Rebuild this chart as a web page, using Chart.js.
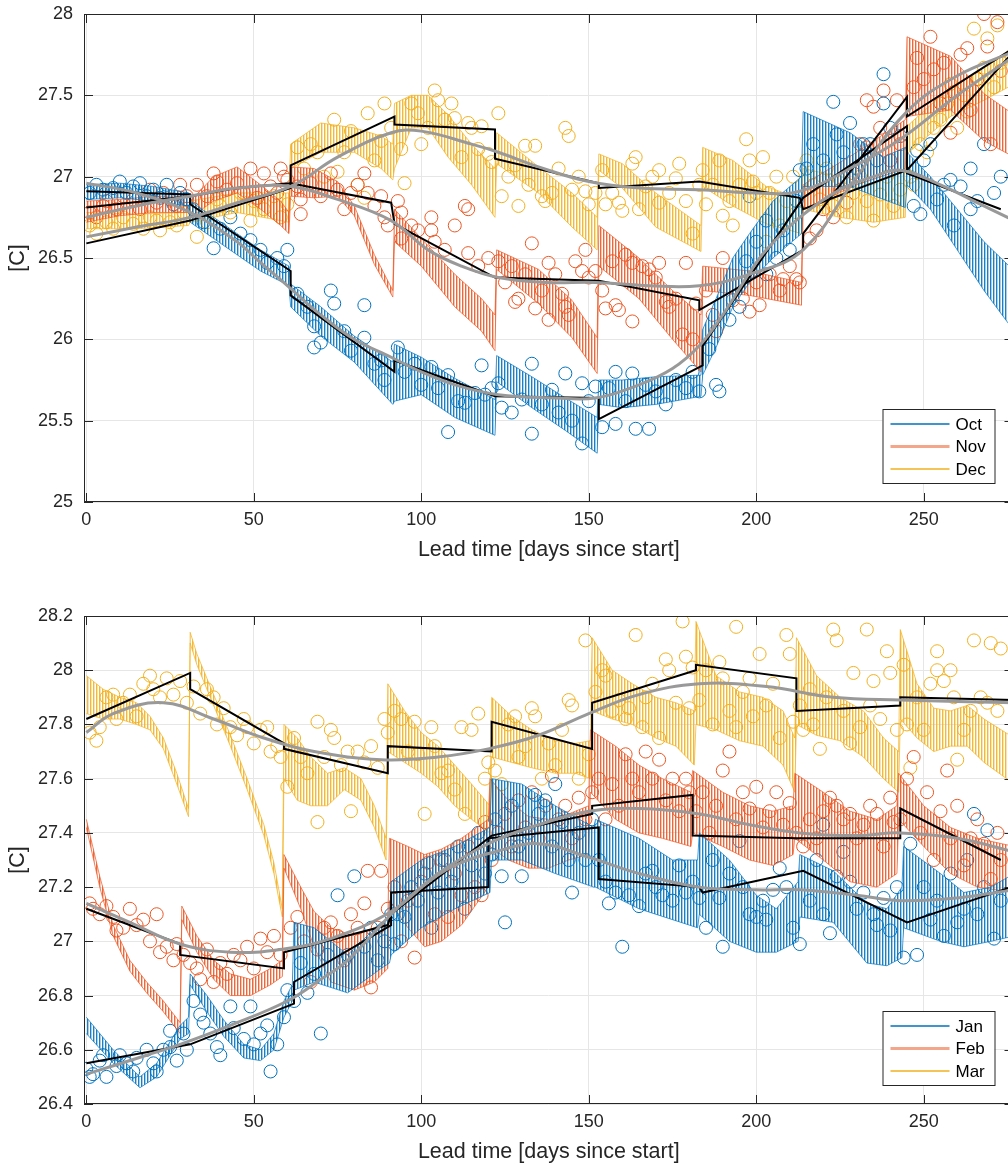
<!DOCTYPE html>
<html lang="en">
<head>
<meta charset="UTF-8">
<title>Lead time forecasts</title>
<style>
  html, body { margin: 0; padding: 0; background: #fff; overflow: hidden; }
  .panel { position: absolute; left: 0; }
  #wrapTop { top: 0; }
  #wrapBot { top: 602px; }
</style>
</head>
<body>
<div class="panel" id="wrapTop"><canvas id="chartTop" width="1021" height="567"></canvas></div>
<div class="panel" id="wrapBot"><canvas id="chartBot" width="1021" height="567"></canvas></div>
<script src="https://cdn.jsdelivr.net/npm/chart.js@4/dist/chart.umd.min.js"></script>
<script>
// ---- axes ----
const xTicks = [0, 50, 100, 150, 200, 250];
const yTicksTop = [25, 25.5, 26, 26.5, 27, 27.5, 28];
const yTicksBot = [26.4, 26.6, 26.8, 27, 27.2, 27.4, 27.6, 27.8, 28, 28.2];
const topMonths = ['Oct', 'Nov', 'Dec'];
const botMonths = ['Jan', 'Feb', 'Mar'];

// ---- top panel: observations [day, temp] ----
const octObs = [[1,26.9],[3,26.95],[5,26.92],[8,26.93],[10,26.97],[12,26.9],[14,26.94],[16,26.96],[18,26.88],[20,26.92],[22,26.87],[24,26.95],[26,26.83],[28,26.9],[30,26.86],
  [32,26.8],[35,26.72],[38,26.56],[40,26.68],[43,26.75],[46,26.65],[49,26.61],[52,26.55],[54,26.47],[57,26.5],[59,26.45],[60,26.55],
  [63,26.28],[66,26.2],[68,26.08],[68,25.95],[70,25.98],[73,26.3],[74,26.22],[77,26.05],[79,25.93],[83,26.21],[83,26.01],[86,25.85],[88,25.87],[89,25.75],
  [93,25.95],[95,25.8],[98,25.85],[100,25.72],[103,25.83],[105,25.7],[108,25.78],[108,25.43],[111,25.62],[113,25.61],[116,25.67],[118,25.84],[119,25.66],[121,25.7],
  [123,25.73],[124,25.58],[127,25.55],[130,25.63],[133,25.85],[133,25.42],[136,25.6],[139,25.69],[141,25.55],[143,25.79],[145,25.5],[148,25.73],[148,25.36],[150,25.62],[152,25.71],
  [154,25.46],[156,25.7],[158,25.8],[158,25.48],[161,25.62],[163,25.79],[164,25.45],[167,25.72],[168,25.45],[170,25.68],[173,25.6],[176,25.75],[179,25.7],[181,25.8],[183,25.68],
  [186,25.94],[188,25.72],[189,25.68],[192,26.12],[195,26.2],[197,26.48],[198,26.88],[200,26.6],[203,26.4],[203,26.73],[206,26.5],[208,26.67],[210,26.55],[212,26.85],[213,27.04],
  [215,27.05],[217,27.2],[220,27.1],[223,27.46],[224,27.26],[226,27.15],[228,27.33],[230,27.05],[232,27.2],[234,27.2],[236,27.1],[238,27.63],[238,27.45],[240,27.3],[243,27.25],
  [247,26.82],[248,27.16],[249,26.77],[250,27.1],[252,27.2],[254,26.86],[256,26.95],[258,26.98],[259,26.7],[261,26.94],[264,27.05],[264,26.8],[266,26.85],[268,27.2],[271,26.9],[273,27.0]];
const novObs = [[1,26.78],[3,26.75],[5,26.82],[6,26.85],[9,26.8],[11,26.88],[14,26.86],[16,26.8],[19,26.92],[21,26.84],[23,26.9],[25,26.86],[27,26.82],[28,26.95],[30,26.88],
  [33,26.95],[36,26.88],[38,27.02],[39,26.97],[42,26.92],[45,26.96],[47,26.9],[49,27.05],[51,26.87],[53,27.02],[55,26.94],[57,26.9],[58,27.05],[59,27.0],[60,26.98],
  [63,26.94],[64,26.86],[64,26.77],[67,26.96],[70,26.88],[73,27.02],[75,26.92],[77,26.8],[79,26.9],[81,26.95],[83,27.02],[84,26.9],[86,26.82],[88,26.88],[89,26.75],[90,26.7],
  [93,26.85],[94,26.78],[94,26.62],[97,26.7],[99,26.67],[103,26.75],[103,26.67],[104,26.6],[107,26.55],[110,26.7],[113,26.82],[114,26.8],[114,26.53],[117,26.45],[120,26.5],
  [123,26.48],[125,26.35],[127,26.45],[128,26.23],[129,26.25],[131,26.4],[133,26.59],[134,26.19],[136,26.3],[138,26.47],[138,26.12],[140,26.4],[142,26.28],[143,26.2],[144,26.15],[146,26.48],[148,26.42],[149,26.55],[150,26.38],[152,26.42],
  [154,26.3],[155,26.19],[157,26.48],[158,26.21],[159,26.18],[161,26.52],[163,26.11],[163,26.47],[166,26.45],[168,26.43],[170,26.38],[171,26.47],[173,26.23],[174,26.2],[176,26.25],[178,26.03],[179,26.47],[181,26.0],[182,26.22],
  [185,26.3],[187,26.15],[188,26.05],[190,26.5],[193,26.24],[196,26.25],[198,26.17],[200,26.35],[201,26.21],[204,26.4],[207,26.3],[208,26.37],[210,26.45],[212,26.37],[213,26.35],
  [216,26.62],[218,26.67],[220,26.8],[223,26.75],[225,26.92],[227,26.84],[229,27.02],[231,27.2],[233,27.47],[233,27.18],[235,27.43],[237,27.3],[238,27.53],[240,27.1],[242,27.47],[243,27.2],
  [247,27.55],[248,27.73],[250,27.6],[252,27.86],[253,27.66],[255,27.45],[256,27.7],[258,27.27],[259,27.52],[261,27.75],[263,27.79],[264,27.41],[266,27.6],[268,28.0],[269,27.8],[270,27.2],[272,27.95],[273,27.65]];
const decObs = [[1,26.7],[3,26.65],[6,26.72],[8,26.68],[11,26.75],[14,26.71],[17,26.68],[19,26.75],[21,26.73],[22,26.67],[25,26.72],[27,26.7],[29,26.78],
  [33,26.63],[36,26.72],[39,26.86],[40,26.82],[43,26.78],[46,26.9],[49,26.73],[50,26.85],[53,26.8],[56,26.88],[58,26.75],[60,26.83],
  [63,27.18],[65,27.05],[67,27.2],[69,27.15],[71,27.0],[74,27.35],[75,27.03],[77,27.15],[79,27.28],[81,26.95],[83,26.87],[84,27.39],[86,27.1],[88,27.22],[89,27.45],[91,27.3],
  [94,27.17],[95,26.96],[97,27.45],[99,27.39],[100,27.2],[102,27.3],[104,27.53],[105,27.47],[107,27.35],[109,27.45],[110,27.36],[112,27.12],[114,27.33],[115,27.3],[117,27.17],[118,27.31],[120,27.14],[121,27.09],
  [123,27.39],[124,26.88],[126,27.0],[128,27.07],[129,26.82],[131,27.19],[132,26.95],[134,27.19],[136,26.88],[137,26.85],[139,26.9],[141,27.05],[143,27.3],[144,27.25],[145,26.92],[147,27.0],[149,26.91],[150,26.83],[152,26.9],
  [154,27.04],[155,26.83],[157,26.9],[159,26.84],[160,26.79],[163,27.08],[164,27.12],[165,26.8],[167,26.94],[169,27.0],[171,27.04],[171,26.84],[174,26.9],[176,26.99],[177,27.08],[179,26.85],[181,26.65],[183,26.95],
  [184,27.04],[185,26.83],[187,26.95],[189,27.1],[190,26.76],[192,26.85],[193,26.7],[195,26.95],[197,27.23],[198,27.1],[199,26.97],[200,26.9],[202,27.12],[203,26.6],[204,26.9],[206,27.0],[207,26.7],[209,26.85],[211,27.0],[212,26.78],
  [215,27.1],[217,26.95],[219,26.86],[221,27.05],[223,26.82],[225,26.98],[227,26.75],[229,26.9],[231,27.0],[233,26.85],[235,26.73],[237,26.89],[239,27.0],[241,26.82],[243,26.92],
  [246,27.0],[247,26.95],[249,27.2],[251,27.15],[253,27.3],[255,27.35],[257,27.45],[258,27.57],[260,27.3],[262,27.5],[263,27.4],[265,27.91],[266,27.6],[268,27.67],[269,27.85],[271,27.55],[272,27.93],[273,27.7]];

// ---- top panel: forecast spread [day, high, low] ----
const octBand = [[0,26.95,26.86],[10,26.96,26.87],[20,26.94,26.85],[30.5,26.9,26.82],
  [31,26.85,26.72],[38,26.75,26.62],[45,26.65,26.52],[52,26.55,26.42],[60.5,26.45,26.33],
  [61,26.34,26.2],[70,26.2,26.02],[80,26.02,25.86],[91.5,25.86,25.6],
  [92,25.97,25.62],[100,25.89,25.66],[110,25.76,25.52],[122,25.63,25.41],
  [122.5,25.9,25.74],[133,25.77,25.58],[143,25.64,25.44],[152.5,25.52,25.3],
  [153,25.75,25.6],[160,25.75,25.58],[170,25.77,25.6],[183.5,25.78,25.65],
  [184,26.06,25.78],[188,26.25,25.95],[193,26.5,26.2],[198,26.65,26.35],[205,26.85,26.5],[213.5,27.0,26.65],
  [214,27.4,26.94],[228,27.27,26.94],[238,27.12,26.86],[244.5,27.18,26.81],
  [245,27.15,26.95],[252,27.0,26.8],[260,26.8,26.55],[268,26.6,26.3],[277,26.42,26.05]];
const novBand = [[0,26.85,26.72],[10,26.86,26.76],[20,26.88,26.78],[30.5,26.88,26.78],
  [31,26.85,26.75],[38,27.0,26.85],[45,27.06,26.9],[52,26.95,26.8],[58,26.85,26.7],[60.5,26.78,26.65],
  [61,27.06,26.88],[68,27.05,26.87],[75,26.97,26.88],[80,26.82,26.76],[86,26.52,26.46],[91.5,26.3,26.26],
  [92,26.8,26.6],[100,26.62,26.45],[110,26.4,26.2],[118,26.25,26.05],[122,26.15,25.93],
  [122.5,26.55,26.43],[135,26.43,26.22],[145,26.24,26.01],[152.5,26.01,25.79],
  [153,26.7,26.45],[165,26.5,26.25],[175,26.3,26.0],[183.5,26.15,25.8],
  [184,26.45,26.3],[198,26.42,26.27],[213.5,26.35,26.21],
  [214,26.95,26.8],[230,27.15,26.95],[244.5,27.35,27.05],
  [245,27.86,27.37],[258,27.74,27.41],[268,27.51,27.22],[277,27.38,27.12]];
const decBand = [[0,26.78,26.68],[15,26.77,26.68],[30.5,26.78,26.7],
  [31,26.85,26.72],[45,26.9,26.78],[60.5,26.9,26.72],
  [61,27.2,27.05],[70,27.33,27.15],[80,27.3,27.15],[88,27.25,27.05],[91.5,27.2,26.98],
  [92,27.45,27.05],[97,27.5,27.3],[102,27.5,27.3],[108,27.38,27.12],[115,27.2,26.95],[122,27.05,26.75],
  [122.5,27.27,27.08],[135,27.06,26.9],[145,26.9,26.69],[152.5,26.75,26.55],
  [153,27.14,27.04],[160,27.08,26.93],[170,26.9,26.69],[183.5,26.7,26.54],
  [184,27.18,26.94],[193,27.1,26.82],[203,26.94,26.71],[213.5,26.86,26.65],
  [214,27.05,26.8],[225,27.0,26.75],[235,26.95,26.72],[244.5,27.05,26.75],
  [245,27.31,27.14],[258,27.55,27.37],[268,27.67,27.47],[277,27.8,27.57]];

// ---- top panel: monthly means (black) and smooth fit (gray) ----
const octMean = [[0,26.91],[31,26.89],[31,26.83],[61,26.42],[61,26.27],[92,25.8],[92,25.87],[122,25.65],[153,25.64],[153,25.51],[184,25.84],[184,25.96],[214,26.87],[245,27.31],[245,27.02],[273,26.8]];
const novMean = [[0,26.81],[31,26.88],[45,26.93],[61,26.96],[91,26.84],[92,26.71],[122,26.38],[153,26.36],[183,26.24],[183,26.18],[214,26.55],[214,26.65],[245,27.49],[245,27.37],[276,27.78]];
const decMean = [[0,26.59],[31,26.73],[61,26.93],[61,27.07],[91,27.36],[92,27.37],[92,27.32],[122,27.29],[122,27.11],[153,26.96],[153,26.93],[183,26.97],[213,26.87],[214,26.8],[245,27.04],[276,27.75]];
const octFit = [[0,26.96],[15,26.9],[31,26.78],[45,26.6],[51,26.49],[60,26.33],[70,26.15],[80,26.0],[91,25.89],[100,25.8],[110,25.72],[123,25.66],[140,25.64],[152,25.64],[165,25.72],[175,25.82],[183,25.96],[190,26.15],[198,26.41],[203,26.55],[213,26.75],[225,26.92],[235,27.0],[243,27.04],[255,26.95],[265,26.85],[277,26.73]];
const novFit = [[0,26.75],[15,26.82],[31,26.88],[45,26.93],[61,26.94],[75,26.86],[91,26.73],[102,26.55],[112,26.45],[123,26.38],[137,26.35],[152,26.35],[168,26.33],[183,26.33],[198,26.4],[214,26.55],[230,27.0],[245,27.4],[260,27.62],[277,27.77]];
const decFit = [[0,26.63],[15,26.69],[31,26.75],[45,26.84],[61,26.94],[75,27.12],[91,27.27],[100,27.28],[115,27.2],[123,27.15],[135,27.06],[150,26.97],[165,26.93],[183,26.92],[200,26.9],[213,26.91],[228,27.05],[243,27.23],[260,27.5],[277,27.74]];

// ---- bottom panel: observations ----
const janObs = [[0,26.53],[1,26.5],[2,26.51],[4,26.56],[5,26.58],[6,26.5],[9,26.54],[10,26.58],[12,26.55],[14,26.52],[15,26.57],[18,26.6],[20,26.55],[21,26.52],[23,26.6],[25,26.61],[25,26.67],[27,26.56],[29,26.66],[30,26.6],
  [32,26.78],[34,26.73],[35,26.7],[37,26.66],[39,26.61],[40,26.58],[43,26.76],[44,26.68],[47,26.64],[49,26.76],[50,26.62],[52,26.66],[54,26.69],[55,26.52],[57,26.62],[59,26.72],[60,26.82],
  [62,26.78],[64,26.92],[66,26.81],[68,26.88],[70,26.66],[72,26.95],[75,27.17],[78,26.95],[80,27.24],[83,26.98],[85,27.05],[87,26.93],[89,27.0],[91,27.1],
  [92,26.99],[93,27.1],[95,27.09],[97,27.2],[99,27.15],[101,27.25],[103,27.05],[105,27.18],[107,27.3],[109,27.22],[111,27.35],[113,27.12],[115,27.28],[117,27.4],[119,27.25],[121,27.32],
  [122,27.45],[124,27.24],[125,27.07],[127,27.5],[129,27.35],[130,27.24],[132,27.4],[134,27.54],[135,27.47],[137,27.52],[139,27.35],[140,27.58],[142,27.44],[144,27.3],[145,27.18],[147,27.4],[149,27.3],[151,27.45],
  [153,27.3],[155,27.22],[156,27.14],[158,27.18],[160,26.98],[162,27.17],[165,27.13],[167,27.25],[169,27.26],[170,27.2],[172,27.17],[175,27.15],[177,27.28],[179,27.18],[181,27.22],[183,27.16],
  [185,27.05],[187,27.3],[189,27.16],[190,26.98],[192,27.25],[195,27.37],[196,27.2],[198,27.1],[200,27.09],[202,27.15],[203,27.08],[205,27.19],[207,27.27],[209,27.2],[211,27.05],[213,26.99],
  [216,27.15],[218,27.3],[220,27.43],[220,27.1],[222,27.03],[224,27.24],[226,27.33],[228,27.22],[230,27.12],[232,27.18],[235,27.1],[236,27.06],[238,27.16],[240,27.04],[242,27.2],[244,26.94],
  [246,27.36],[248,26.95],[250,27.2],[252,27.08],[254,27.15],[256,27.02],[258,27.25],[260,27.07],[262,27.12],[263,27.3],[265,27.47],[266,27.1],[268,27.2],[269,27.41],[271,27.01],[273,27.15]];
const febObs = [[1,27.14],[2,27.12],[4,27.1],[6,27.13],[8,27.09],[9,27.04],[11,27.05],[13,27.12],[15,27.06],[17,27.08],[19,27.0],[21,27.1],[22,26.96],[24,26.98],[26,26.93],[27,26.99],
  [29,26.95],[31,26.92],[33,26.9],[34,26.86],[36,26.97],[38,26.85],[40,26.92],[42,26.88],[44,26.95],[46,26.93],[48,26.98],[50,26.9],[52,27.01],[54,26.96],[56,27.02],[58,26.95],
  [61,27.05],[63,27.09],[65,27.0],[67,26.85],[69,26.97],[71,27.05],[73,27.07],[75,27.02],[77,26.93],[79,27.1],[81,27.05],[83,27.14],[84,27.26],[85,26.83],[87,27.05],[88,27.26],[90,27.12],
  [92,27.2],[94,27.0],[96,27.15],[98,26.94],[100,27.22],[102,27.29],[104,27.1],[106,27.3],[108,27.09],[110,27.25],[112,27.17],[114,27.35],[116,27.2],[118,27.17],[119,27.44],
  [121,27.3],[123,27.4],[125,27.47],[127,27.35],[129,27.52],[131,27.42],[133,27.55],[135,27.38],[137,27.5],[139,27.61],[141,27.45],[143,27.5],[145,27.38],[147,27.53],[149,27.45],
  [151,27.55],[153,27.6],[155,27.45],[157,27.58],[159,27.5],[161,27.69],[163,27.6],[165,27.55],[167,27.7],[169,27.6],[171,27.67],[173,27.52],[175,27.6],[177,27.48],[179,27.6],[180,27.55],
  [182,27.48],[184,27.55],[186,27.4],[188,27.5],[190,27.63],[192,27.7],[194,27.45],[196,27.55],[198,27.49],[200,27.57],[202,27.42],[204,27.48],[206,27.55],[208,27.43],[210,27.51],
  [212,27.4],[214,27.35],[216,27.45],[218,27.38],[220,27.48],[222,27.53],[224,27.5],[226,27.45],[228,27.47],[230,27.38],[232,27.43],[234,27.5],[236,27.47],[238,27.35],[240,27.53],[241,27.44],
  [243,27.45],[245,27.6],[247,27.68],[249,27.4],[251,27.55],[253,27.3],[255,27.48],[257,27.63],[258,27.38],[260,27.5],[262,27.28],[264,27.38],[266,27.45],[268,27.36],[270,27.23],[272,27.4],[273,27.3]];
const marObs = [[1,27.77],[3,27.74],[4,27.79],[6,27.9],[8,27.91],[9,27.82],[11,27.88],[13,27.91],[15,27.83],[17,27.95],[19,27.98],[20,27.93],[22,27.9],[24,27.97],[26,27.91],[28,27.96],[30,27.88],
  [32,27.94],[34,27.84],[36,27.93],[38,27.9],[39,27.8],[41,27.86],[43,27.79],[45,27.76],[47,27.82],[48,27.79],[50,27.73],[52,27.78],[54,27.79],[55,27.7],[57,27.72],[58,27.68],
  [60,27.57],[62,27.75],[64,27.68],[66,27.62],[69,27.81],[69,27.44],[71,27.68],[73,27.78],[74,27.75],[76,27.65],[78,27.7],[79,27.48],[81,27.7],[83,27.66],[85,27.72],[87,27.64],[89,27.82],[90,27.77],
  [92,27.85],[94,27.82],[96,27.7],[98,27.81],[99,27.69],[101,27.47],[103,27.79],[104,27.72],[106,27.62],[108,27.63],[110,27.56],[112,27.79],[113,27.47],[115,27.78],[117,27.84],[119,27.6],[120,27.66],
  [122,27.63],[124,27.58],[126,27.8],[128,27.83],[129,27.68],[131,27.72],[133,27.86],[134,27.83],[136,27.6],[138,27.73],[140,27.65],[142,27.78],[144,27.89],[145,27.87],[147,27.6],[149,28.11],[150,27.69],
  [152,27.92],[154,28.0],[155,27.98],[157,27.85],[159,27.89],[161,27.82],[162,27.86],[164,28.13],[166,27.79],[167,27.9],[169,27.95],[171,27.75],[173,28.04],[174,28.0],[176,27.88],[178,28.18],[179,28.05],[180,27.86],[181,28.01],
  [183,27.89],[185,28.0],[187,27.8],[189,28.03],[190,27.97],[192,27.85],[194,28.16],[194,27.79],[196,27.92],[198,27.97],[199,27.83],[201,28.06],[203,27.87],[205,27.95],[207,27.75],[209,28.13],[210,28.06],[211,27.81],
  [213,27.87],[214,27.78],[216,27.93],[217,27.8],[219,27.71],[221,27.9],[223,28.15],[224,28.11],[226,27.85],[228,27.73],[229,27.99],[231,27.79],[233,28.15],[234,27.87],[235,27.96],[237,27.82],[239,28.07],[240,27.99],[242,27.78],
  [244,28.02],[245,27.8],[246,27.64],[248,27.9],[250,27.78],[252,27.95],[254,28.07],[254,28.0],[256,27.96],[258,28.0],[259,27.9],[260,27.67],[262,27.78],[264,27.85],[265,28.11],[267,27.9],[269,27.88],[270,28.1],[272,27.85],[273,28.08]];

// ---- bottom panel: forecast spread [day, high, low] ----
const janBand = [[0,26.72,26.66],[8,26.6,26.55],[16,26.5,26.46],[21,26.55,26.5],[28,26.69,26.64],[30.5,26.72,26.66],
  [31,26.88,26.84],[36,26.8,26.74],[41,26.71,26.65],[47,26.62,26.57],[52,26.6,26.56],[56,26.66,26.6],[59,26.78,26.72],[61.5,26.84,26.78],
  [62,27.07,26.82],[68,27.05,26.85],[78,26.95,26.81],[88,27.07,26.9],[90.5,27.08,26.92],
  [91,27.22,26.95],[100,27.3,27.05],[110,27.35,27.12],[120.5,27.42,27.18],
  [121,27.6,27.3],[130,27.58,27.3],[140,27.5,27.25],[151.5,27.42,27.2],
  [152,27.45,27.2],[165,27.38,27.12],[175,27.3,27.08],[182.5,27.3,27.05],
  [183,27.4,27.1],[192,27.3,27.0],[200,27.17,26.96],[206,27.12,26.96],[212.5,27.22,27.0],
  [213,27.32,27.09],[223,27.26,27.07],[233,27.14,26.92],[239,27.12,26.91],[243.5,27.2,26.94],
  [244,27.35,27.05],[255,27.25,27.0],[262,27.18,26.98],[270,27.2,27.0],[277,27.25,27.02]];
const febBand = [[0,27.45,27.42],[4,27.24,27.2],[8,27.06,27.02],[13,26.93,26.89],[18,26.85,26.81],[23,26.78,26.74],[28,26.7,26.66],
  [28.5,27.13,27.08],[33,27.02,26.96],[38,26.93,26.86],[43,26.88,26.8],[49,26.86,26.8],[55,26.9,26.84],[58.5,26.93,26.87],
  [59,27.32,27.27],[64,27.2,27.12],[68,27.11,26.98],[73,27.05,26.85],[80,27.02,26.82],[86,27.05,26.85],[90,27.08,26.9],
  [90.5,27.38,27.15],[96,27.35,27.05],[101,27.32,26.98],[106,27.34,27.0],[112,27.38,27.06],[120,27.45,27.2],
  [120.5,27.6,27.35],[126,27.52,27.3],[132,27.46,27.27],[138,27.45,27.27],[144,27.47,27.3],[150,27.5,27.32],
  [150.5,27.78,27.55],[158,27.72,27.45],[165,27.65,27.4],[172,27.6,27.38],[180.5,27.55,27.35],
  [181,27.63,27.4],[190,27.55,27.35],[198,27.5,27.3],[205,27.48,27.28],[211,27.5,27.32],
  [211.5,27.62,27.38],[220,27.55,27.3],[228,27.48,27.22],[236,27.45,27.2],[242,27.5,27.25],
  [242.5,27.62,27.45],[250,27.5,27.35],[258,27.42,27.25],[266,27.38,27.2],[277,27.35,27.18]];
const marBand = [[0,27.98,27.84],[5,27.93,27.82],[10,27.9,27.82],[15,27.88,27.8],[19,27.83,27.78],[23,27.75,27.71],[27,27.62,27.58],[30.5,27.49,27.46],
  [31,28.14,28.1],[33,28.06,28.02],[38,27.91,27.87],[43,27.76,27.72],[48,27.6,27.56],[53,27.43,27.39],[56,27.29,27.25],[58.5,27.12,27.09],
  [59,27.8,27.6],[63,27.75,27.52],[67,27.68,27.5],[72,27.62,27.5],[77,27.64,27.56],[82,27.6,27.52],[86,27.5,27.42],[89.5,27.38,27.3],
  [90,27.95,27.7],[95,27.85,27.66],[100,27.77,27.62],[105,27.72,27.57],[110,27.65,27.5],[115,27.58,27.45],[120.5,27.5,27.4],
  [121,27.9,27.68],[127,27.83,27.66],[133,27.78,27.64],[140,27.74,27.62],[146,27.73,27.62],[150.5,27.74,27.6],
  [151,28.12,27.85],[157,28.0,27.82],[163,27.95,27.8],[170,27.9,27.75],[176,27.88,27.72],[181.5,27.85,27.65],
  [182,28.18,27.8],[188,27.98,27.78],[195,27.92,27.74],[202,27.9,27.72],[208,27.85,27.65],[211.5,27.75,27.55],
  [212,28.12,27.8],[218,27.98,27.76],[225,27.9,27.74],[232,27.85,27.68],[238,27.75,27.6],[242.5,27.7,27.55],
  [243,28.15,27.82],[248,27.95,27.75],[253,27.86,27.7],[258,27.85,27.72],[263,27.87,27.72],[268,27.82,27.66],[277,27.75,27.58]];

// ---- bottom panel: monthly means and smooth fit ----
const janMean = [[0,26.55],[31,26.62],[62,26.77],[62,26.85],[91,27.06],[91,27.18],[120,27.2],[120,27.38],[153,27.42],[153,27.23],[183,27.2],[184,27.18],[214,27.26],[245,27.07],[276,27.2]];
const febMean = [[0,27.12],[28,26.99],[28,26.95],[59,26.9],[59,26.96],[90,27.06],[91,27.1],[120,27.38],[121,27.39],[151,27.47],[151,27.5],[181,27.54],[181,27.39],[212,27.38],[243,27.38],[243,27.49],[273,27.3]];
const marMean = [[0,27.82],[31,27.99],[31,27.93],[59,27.73],[59,27.71],[90,27.62],[90,27.72],[121,27.7],[121,27.81],[151,27.71],[151,27.88],[182,28.0],[182,28.02],[212,27.97],[212,27.85],[243,27.87],[243,27.9],[277,27.89]];
const janFit = [[0,26.51],[18,26.58],[28,26.62],[43,26.69],[60,26.78],[70,26.86],[78,26.93],[91,27.1],[100,27.2],[110,27.28],[122,27.33],[135,27.36],[150,27.31],[165,27.25],[183,27.2],[200,27.19],[213,27.19],[230,27.17],[243,27.15],[260,27.16],[277,27.19]];
const febFit = [[0,27.14],[13,27.07],[28,26.99],[43,26.96],[58,26.97],[73,27.01],[91,27.11],[105,27.25],[120,27.36],[135,27.43],[150,27.48],[165,27.49],[183,27.47],[198,27.43],[213,27.4],[230,27.39],[243,27.4],[260,27.38],[277,27.33]];
const marFit = [[0,27.77],[8,27.84],[23,27.88],[38,27.82],[53,27.75],[68,27.7],[88,27.67],[105,27.68],[120,27.71],[135,27.76],[150,27.84],[165,27.91],[183,27.95],[203,27.94],[223,27.9],[243,27.89],[277,27.88]];

// ---- style ----
const COLORS = ['#0072BD', '#EB5724', '#F2B01E'];
const LEGEND_COLORS = ['#0072BD', '#F4A68A', '#F2B01E'];
const LEGEND_WIDTHS = [1.5, 3, 1.5];
const FONT = '"Liberation Sans", Arial, Helvetica, sans-serif';
const AXIS = '#262626';

function pts(a, col) { return a.map(p => ({ x: p[0], y: p[col || 1] })); }

// vertical hatching that stands in for the dense daily zigzag
function hatch(color) {
  const c = document.createElement('canvas');
  c.width = 3; c.height = 4;
  const g = c.getContext('2d');
  g.fillStyle = color;
  g.globalAlpha = 0.9;  g.fillRect(0, 0, 1, 4);
  g.globalAlpha = 0.35; g.fillRect(1, 0, 1, 4);
  return g.createPattern(c, 'repeat');
}

// box, inward ticks, legend
const frame = {
  id: 'frame',
  afterDraw(chart) {
    const { ctx, chartArea: a, scales: { x, y } } = chart;
    const months = chart.options.plugins.frame.months;
    ctx.save();
    ctx.strokeStyle = AXIS;
    ctx.lineWidth = 1;
    ctx.strokeRect(a.left + 0.5, a.top + 0.5, a.right - a.left - 1, a.bottom - a.top - 1);
    ctx.beginPath();
    x.ticks.forEach(t => {
      const px = Math.round(x.getPixelForValue(t.value)) + 0.5;
      ctx.moveTo(px, a.bottom); ctx.lineTo(px, a.bottom - 9);
      ctx.moveTo(px, a.top); ctx.lineTo(px, a.top + 9);
    });
    y.ticks.forEach(t => {
      const py = Math.round(y.getPixelForValue(t.value)) + 0.5;
      ctx.moveTo(a.left, py); ctx.lineTo(a.left + 9, py);
      ctx.moveTo(a.right, py); ctx.lineTo(a.right - 9, py);
    });
    ctx.stroke();

    // legend
    const bw = 112, bh = 74;
    const bx = a.right - 19 - bw, by = a.bottom - 19 - bh;
    ctx.fillStyle = '#fff';
    ctx.fillRect(bx, by, bw, bh);
    ctx.strokeRect(bx + 0.5, by + 0.5, bw, bh);
    ctx.font = '17px ' + FONT;
    ctx.textBaseline = 'middle';
    months.forEach((m, i) => {
      const ly = by + 15 + i * 22.5;
      ctx.strokeStyle = LEGEND_COLORS[i];
      ctx.lineWidth = LEGEND_WIDTHS[i];
      ctx.beginPath(); ctx.moveTo(bx + 8, ly); ctx.lineTo(bx + 67, ly); ctx.stroke();
      ctx.fillStyle = '#000';
      ctx.fillText(m, bx + 73, ly + 1);
    });
    ctx.restore();
  }
};

function makePanel(canvasId, months, obs, bands, means, fits, yTicks) {
  const datasets = [];
  means.forEach(m => datasets.push({
    data: pts(m), borderColor: '#000', borderWidth: 2, pointRadius: 0, tension: 0, fill: false, order: 1, clip: 0
  }));
  fits.forEach(f => datasets.push({
    data: pts(f), borderColor: '#999999', borderWidth: 3, pointRadius: 0, tension: 0.4, fill: false, order: 0, clip: 0
  }));
  bands.forEach((b, i) => {
    datasets.push({
      data: pts(b, 1), borderColor: COLORS[i], borderWidth: 0.7, pointRadius: 0, tension: 0,
      fill: '+1', backgroundColor: hatch(COLORS[i]), order: 2, clip: 0
    });
    datasets.push({
      data: pts(b, 2), borderColor: COLORS[i], borderWidth: 0.7, pointRadius: 0, tension: 0,
      fill: false, order: 2, clip: 0
    });
  });
  obs.forEach((o, i) => datasets.push({
    data: pts(o), showLine: false, pointRadius: 6.5, pointBorderWidth: 1,
    pointBorderColor: COLORS[i], pointBackgroundColor: 'rgba(0,0,0,0)', borderColor: COLORS[i], order: 3, clip: 0
  }));

  return new Chart(document.getElementById(canvasId), {
    type: 'line',
    data: { datasets },
    plugins: [frame],
    options: {
      responsive: false,
      animation: false,
      events: [],
      layout: { padding: { top: 14, right: 1, left: 0, bottom: 0 } },
      plugins: {
        legend: { display: false },
        tooltip: { enabled: false },
        frame: { months }
      },
      scales: {
        x: {
          type: 'linear', min: -0.7, max: 276.8,
          afterBuildTicks: s => { s.ticks = xTicks.map(v => ({ value: v })); },
          afterFit: s => { s.height = 65; s.paddingLeft = 0; s.paddingRight = 0; },
          ticks: { color: AXIS, font: { family: FONT, size: 18 }, padding: 7, maxRotation: 0 },
          grid: { color: '#e6e6e6', drawTicks: false },
          border: { display: false },
          title: { display: true, text: 'Lead time [days since start]', color: AXIS,
                   font: { family: FONT, size: 21.5 }, padding: { top: 0, bottom: 4 } }
        },
        y: {
          type: 'linear', min: yTicks[0], max: yTicks[yTicks.length - 1],
          afterBuildTicks: s => { s.ticks = yTicks.map(v => ({ value: v })); },
          afterFit: s => { s.width = 84; s.paddingTop = 0; s.paddingBottom = 0; },
          ticks: { color: AXIS, font: { family: FONT, size: 18 }, padding: 11,
                   callback: v => String(Number(v.toFixed(1))) },
          grid: { color: '#e6e6e6', drawTicks: false },
          border: { display: false },
          title: { display: true, text: '[C]', color: AXIS,
                   font: { family: FONT, size: 21.5 }, padding: { top: 5, bottom: 0 } }
        }
      }
    }
  });
}

makePanel('chartTop', topMonths, [octObs, novObs, decObs], [octBand, novBand, decBand],
  [octMean, novMean, decMean], [octFit, novFit, decFit], yTicksTop);
makePanel('chartBot', botMonths, [janObs, febObs, marObs], [janBand, febBand, marBand],
  [janMean, febMean, marMean], [janFit, febFit, marFit], yTicksBot);
</script>
</body>
</html>
